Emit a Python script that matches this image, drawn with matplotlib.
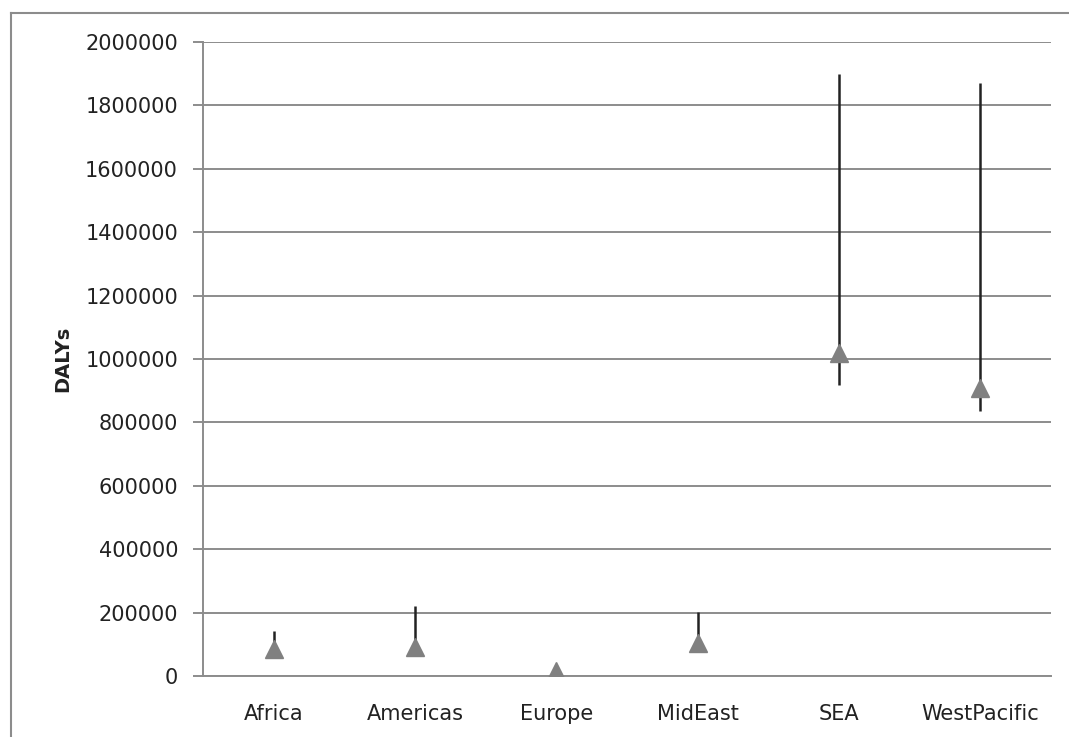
import matplotlib
matplotlib.use("Agg")
import matplotlib.pyplot as plt
from matplotlib.lines import Line2D

# ── Data ──────────────────────────────────────────────────────────────────────
regions = ["Africa", "Americas", "Europe", "MidEast", "SEA", "WestPacific"]
dalys   = [84000, 92000, 16000, 105000, 1020000, 910000]
high    = [142000, 222000, 20000, 202000, 1900000, 1872000]
low     = [80000, 88000, 14000, 100000, 918000, 836000]
yticks  = list(range(0, 2000001, 200000))

fig = plt.figure(figsize=(10.69, 7.37), dpi=100)
ax = fig.add_axes([203 / 1069, 61 / 737, 848 / 1069, 634 / 737])

# outer chart border (Excel style)
fig.add_artist(Line2D([11 / 1069, 11 / 1069], [0, 1 - 13 / 737],
                      transform=fig.transFigure, color="#8c8c8c", lw=1.5))
fig.add_artist(Line2D([11 / 1069, 1], [1 - 13 / 737, 1 - 13 / 737],
                      transform=fig.transFigure, color="#8c8c8c", lw=1.5))

x = list(range(len(regions)))
ax.vlines(x, low, high, color="#222222", linewidth=1.8, zorder=3)
ax.plot(x, dalys, linestyle="none", marker="^", markersize=13.5,
        color="#808080", markeredgecolor="#808080", zorder=4)

ax.set_xlim(-0.5, len(regions) - 0.5)
ax.set_ylim(0, 2000000)
ax.set_yticks(yticks)
ax.set_yticklabels([str(v) for v in yticks])
ax.set_xticks(x)
ax.set_xticklabels(regions)

ax.grid(axis="y", color="#8c8c8c", linewidth=1.4, zorder=0)
ax.set_axisbelow(True)
for s in ["top", "right"]:
    ax.spines[s].set_visible(False)
for s in ["left", "bottom"]:
    ax.spines[s].set_color("#8c8c8c")
    ax.spines[s].set_linewidth(1.4)

ax.tick_params(axis="y", length=7, width=1.4, color="#8c8c8c", pad=11,
               labelsize=15, labelcolor="#222222")
ax.tick_params(axis="x", length=0, pad=20, labelsize=15, labelcolor="#222222")

ax.set_ylabel("DALYs", fontsize=14, fontweight="bold", color="#222222", labelpad=9)

fig.savefig("out.png", dpi=100)
